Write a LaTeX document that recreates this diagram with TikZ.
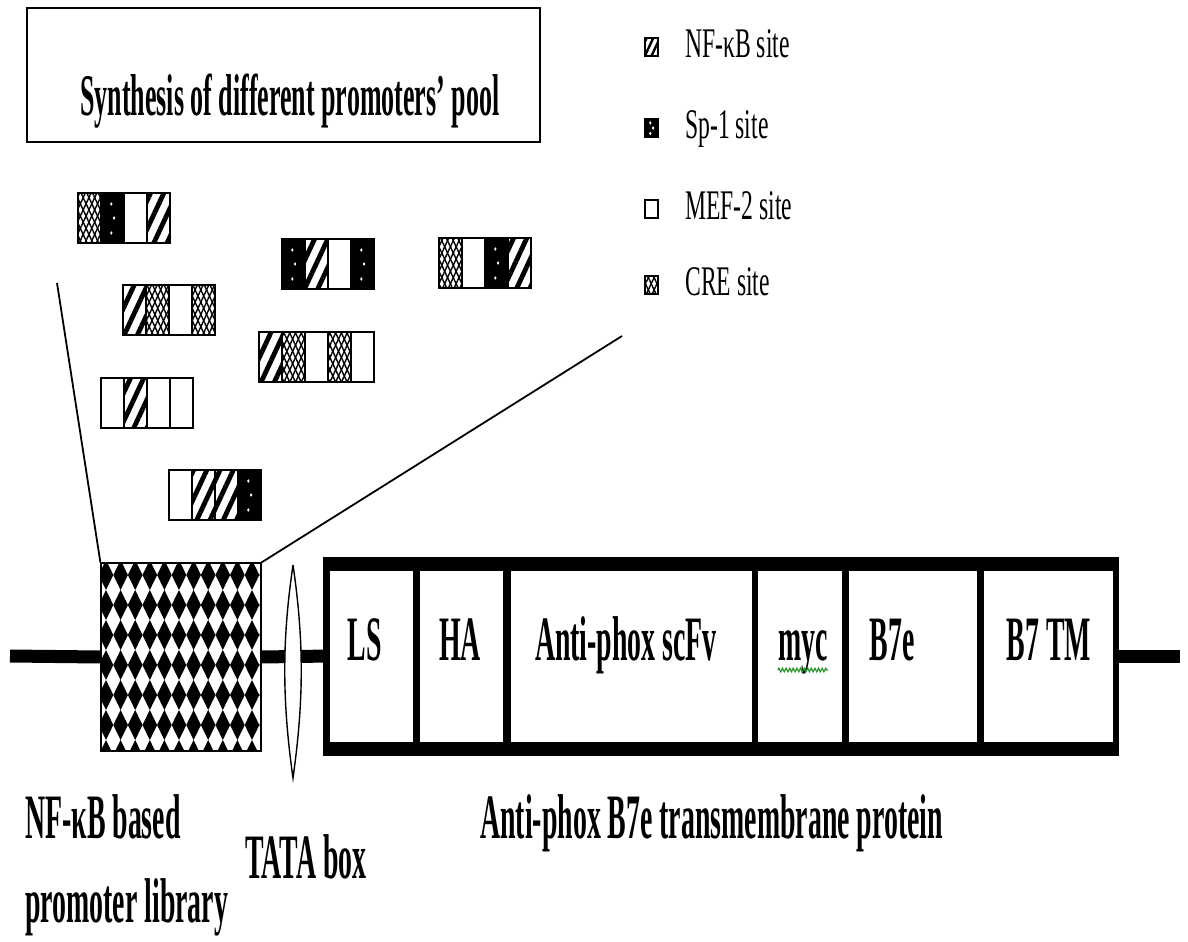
\documentclass[tikz,border=0pt]{standalone}
\usepackage{fontspec}
\setmainfont{Liberation Serif}
\newfontfamily\narrowfont[FakeStretch=0.44]{Liberation Serif}
\newfontfamily\legendfont[FakeStretch=0.56]{Liberation Serif}
\usetikzlibrary{patterns.meta, decorations.pathmorphing, calc, positioning}
\definecolor{spellgreen}{RGB}{40, 150, 40}

% one promoter of the pool: top-left corner, list of site styles
\newcommand{\promoter}[2]{%
  \foreach \t [count=\i from 0] in {#2}
    \path[\t, draw, line width=0.5mm] ($(#1)+(23*\i,0)$) rectangle ++(23,50);
}

\begin{document}
\begin{tikzpicture}[
    x=0.25mm, y=-0.25mm,
    nfkb/.style={fill=white, postaction={pattern={Lines[angle=65, distance=3mm, line width=1.2mm]}}},
    smallnfkb/.style={fill=white, postaction={pattern={Lines[angle=65, distance=1.5mm, line width=0.6mm]}}},
    spone/.style={fill=black, path picture={
        \foreach \f/\dx in {0.22/-0.3, 0.5/0.4, 0.8/-0.3}
          \fill[white] ([xshift=\dx mm]$(path picture bounding box.north)!\f!(path picture bounding box.south)$) ellipse[x radius=0.3mm, y radius=0.45mm];}},
    mef/.style={fill=white},
    cre/.style={fill=white, path picture={
        \fill[pattern={Lines[angle=65, distance=1.3mm, line width=0.35mm]}] (path picture bounding box.south west) rectangle (path picture bounding box.north east);
        \fill[pattern={Lines[angle=-65, distance=1.3mm, line width=0.35mm]}] (path picture bounding box.south west) rectangle (path picture bounding box.north east);}},
    lab/.style={font=\narrowfont\fontsize{45}{50}\selectfont\bfseries, anchor=base, inner sep=0pt},
    leftlab/.style={lab, anchor=base west},
    legtext/.style={font=\legendfont\fontsize{30}{34}\selectfont, anchor=base west, inner sep=0pt},
    libblock/.style={draw, line width=0.3mm, minimum width=40mm, minimum height=47mm, inner sep=0pt, fill=white, path picture={
        \foreach \i in {0,...,11} \foreach \j in {0,...,6}
          \fill[black] (path picture bounding box.north west) ++(1.25mm+\i*3.65mm-1.83mm, -3mm-\j*7.5mm)
            -- ++(1.83mm,3.75mm) -- ++(1.83mm,-3.75mm) -- ++(-1.83mm,-3.75mm) -- cycle;}}
  ]
  \useasboundingbox (0,0) rectangle (1188,942);

  % title box
  \draw[line width=0.5mm] (27,8) rectangle (540,142);
  \node[leftlab, font=\narrowfont\fontsize{42}{46}\selectfont\bfseries] (title) at (80,116) {Synthesis of different promoters’ pool};

  % legend
  \foreach \s/\y/\txt [count=\k] in {smallnfkb/38/NF-κB site, spone/119/Sp-1 site, mef/200/MEF-2 site, cre/276/CRE site} {
    \path[\s, draw, line width=0.4mm] (645,\y) rectangle ++(13,18);
    \node[legtext] (leg\k) at (685,\y+20) {\txt};
  }

  % pool of promoters
  \promoter{78,193}{cre, spone, mef, nfkb}
  \promoter{282,239}{spone, nfkb, mef, spone}
  \promoter{439,238}{cre, mef, spone, nfkb}
  \promoter{123,285}{nfkb, cre, mef, cre}
  \promoter{259,332}{nfkb, cre, mef, cre, mef}
  \promoter{101,378}{mef, nfkb, mef, mef}
  \promoter{169,470}{mef, nfkb, nfkb, spone}

  % backbone
  \coordinate (dnaL) at (10,656);
  \coordinate (dnaR) at (1180,656);
  \node[libblock] (lib) at (181,657) {};
  \draw[line width=3.25mm] (dnaL) -- (lib.west);
  \draw[line width=3.25mm] (lib.east) -- (330,656);
  \draw[line width=3.25mm] (1115,656) -- (dnaR);

  % zoom lines to the pool
  \coordinate (poolL) at (57,283);
  \coordinate (poolR) at (622,336);
  \draw[line width=0.45mm] (poolL) -- (lib.north west);
  \draw[line width=0.45mm] (lib.north east) -- (poolR);

  % TATA box
  \draw[line width=0.35mm, fill=white] (293,565) .. controls (304,640) and (304,700) .. (293,778)
    .. controls (282,700) and (282,640) .. (293,565);

  % transmembrane protein construct
  \fill (323,557) rectangle (1119,756);
  \foreach \a/\b in {330/413, 420/503, 511/752, 758/842, 849/977, 984/1113}
    \fill[white] (\a,571) rectangle (\b,742);
  \node[lab] (ls) at (365,660) {LS};
  \node[lab] (ha) at (460,660) {HA};
  \node[lab] (scfv) at (626,660) {Anti-phox scFv};
  \node[lab] (myc) at (803,660) {myc};
  \node[lab] (bsev) at (892,660) {B7e};
  \node[lab] (btm) at (1049,660) {B7 TM};
  \draw[spellgreen, line width=0.3mm, decorate, decoration={zigzag, segment length=0.9mm, amplitude=0.45mm}]
    ([yshift=-2.5mm]myc.base west) -- ([yshift=-2.5mm]myc.base east);

  % captions
  \node[leftlab] (libcap) at (25,838) {NF-κB based};
  \node[leftlab] (libcapb) at (25,922) {promoter library};
  \node[leftlab] (tatacap) at (245,878) {TATA box};
  \node[leftlab] (protcap) at (480,838) {Anti-phox B7e transmembrane protein};
\end{tikzpicture}
\end{document}
